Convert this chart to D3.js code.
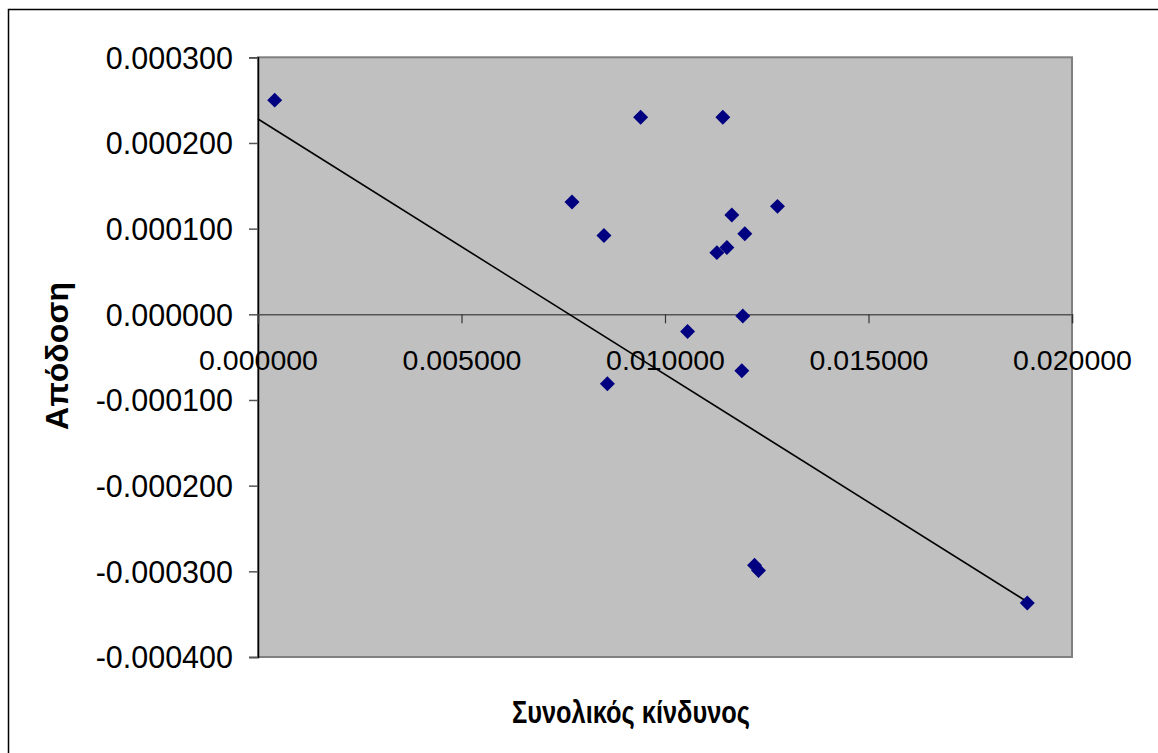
<!DOCTYPE html>
<html><head><meta charset="utf-8">
<script src="https://cdn.jsdelivr.net/npm/d3@7"></script>
<style>
html,body{margin:0;padding:0;background:#fff;overflow:hidden}
text{font-family:"Liberation Sans",Arial,sans-serif;fill:#000}
</style></head><body>
<script>
// Data
const riskX = [0.000410, 0.007715, 0.008500, 0.009401, 0.011421, 0.011642, 0.011961, 0.012764, 0.011274, 0.011520, 0.011912, 0.010555, 0.011888, 0.008584, 0.012200, 0.012298, 0.018901];
const returnY = [0.000250, 0.000131, 0.000092, 0.000230, 0.000230, 0.000116, 0.000094, 0.000126, 0.000072, 0.000078, -0.000002, -0.000020, -0.000066, -0.000081, -0.000293, -0.000299, -0.000337];
const trendX = [0, 0.01895];
const trendY = [0.000228, -0.000337];
const xTicks = [0, 0.005, 0.010, 0.015, 0.020];
const yTicks = [0.0003, 0.0002, 0.0001, 0, -0.0001, -0.0002, -0.0003, -0.0004];
const xTitle = "Συνολικός κίνδυνος";
const yTitle = "Απόδοση";

const W = 1158, H = 753;
const L = 258, R = 1072, T = 57.3, B = 657;
const svg = d3.select("body").append("svg").attr("width", W).attr("height", H);

// outer chart border
svg.append("rect").attr("x", 8.5).attr("y", 9.5).attr("width", W + 20).attr("height", H + 20)
  .attr("fill", "none").attr("stroke", "#000").attr("stroke-width", 1.5);

const x = d3.scaleLinear().domain([0, 0.02]).range([L, R]);
const y = d3.scaleLinear().domain([-0.0004, 0.0003]).range([B, T]);

// plot area
svg.append("rect").attr("x", L).attr("y", T).attr("width", R - L).attr("height", B - T)
  .attr("fill", "#C0C0C0").attr("stroke", "#808080").attr("stroke-width", 2);

// y axis
const yAxis = d3.axisLeft(y).tickValues(yTicks).tickSize(9).tickPadding(16)
  .tickFormat(d => d3.format(".6f")(d).replace("−", "-"));
const gy = svg.append("g").attr("transform", `translate(${L},0)`).call(yAxis);
gy.select(".domain").attr("stroke", "#000").attr("stroke-width", 1.5);
gy.selectAll(".tick line").attr("stroke", "#555").attr("stroke-width", 1.5);
gy.selectAll(".tick text").style("font-size", "30.5px").attr("dy", "0.36em");

// x axis at y=0
const xAxis = d3.axisBottom(x).tickValues(xTicks).tickSize(9).tickPadding(26)
  .tickFormat(d3.format(".6f"));
const gx = svg.append("g").attr("transform", `translate(0,${y(0)})`).call(xAxis);
gx.select(".domain").attr("stroke", "#555").attr("stroke-width", 1.5);
gx.selectAll(".tick line").attr("stroke", "#333").attr("stroke-width", 1.2);
gx.selectAll(".tick text").style("font-size", "28.5px").attr("dy", "0.71em");

// trend line
svg.append("path")
  .datum(trendX.map((v, i) => [v, trendY[i]]))
  .attr("d", d3.line().x(d => x(d[0])).y(d => y(d[1])))
  .attr("stroke", "#000").attr("stroke-width", 1.6).attr("fill", "none");

// points
const sym = d3.symbol().type(d3.symbolSquare).size(112);
svg.append("g").selectAll("path").data(riskX.map((v, i) => [v, returnY[i]])).join("path")
  .attr("d", sym)
  .attr("transform", d => `translate(${x(d[0])},${y(d[1])}) rotate(45)`)
  .attr("fill", "#000080");

// axis titles
svg.append("text").attr("x", 631).attr("y", 723).attr("text-anchor", "middle")
  .attr("textLength", 238).attr("lengthAdjust", "spacingAndGlyphs")
  .style("font-size", "31px").style("font-weight", "bold").text(xTitle);
svg.append("text").attr("transform", "translate(68,356) rotate(-90)").attr("text-anchor", "middle")
  .attr("textLength", 148).attr("lengthAdjust", "spacingAndGlyphs")
  .style("font-size", "31px").style("font-weight", "bold").text(yTitle);
</script>
</body></html>
